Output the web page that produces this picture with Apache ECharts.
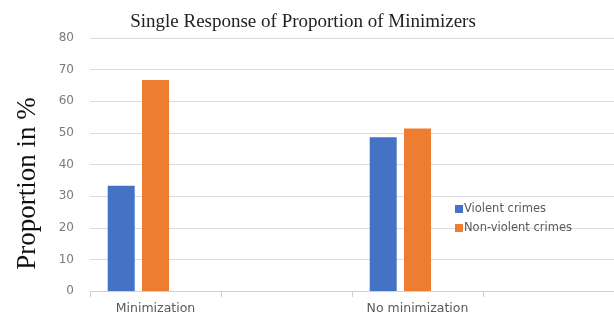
<!DOCTYPE html>
<html>
<head>
<meta charset="utf-8">
<script src="https://cdn.jsdelivr.net/npm/echarts@6/dist/echarts.min.js"></script>
<style>
  html, body { margin: 0; padding: 0; background: #fff; }
  #chart { width: 614px; height: 321px; }
</style>
</head>
<body>
<div id="chart"></div>
<script>
// categories (Excel layout leaves empty slots between groups)
var categories = ['Minimization', '', 'No minimization', ''];
var violentCrimes = [33.3, null, 48.6, null];
var nonViolentCrimes = [66.7, null, 51.4, null];
var yTicks = [0, 10, 20, 30, 40, 50, 60, 70, 80];

var chart = echarts.init(document.getElementById('chart'));
var option = {
  backgroundColor: '#fff',
  animation: false,
  title: {
    text: 'Single Response of Proportion of Minimizers',
    left: 298,
    top: 8,
    textAlign: 'center',
    textStyle: {
      fontFamily: 'Liberation Serif',
      fontWeight: 'normal',
      fontSize: 19,
      color: '#222'
    }
  },
  legend: {
    orient: 'vertical',
    left: 450,
    top: 198,
    itemWidth: 8,
    itemHeight: 8,
    itemGap: 7,
    icon: 'rect',
    data: ['Violent crimes', 'Non-violent crimes'],
    textStyle: { fontFamily: 'DejaVu Sans', fontSize: 11.5, color: '#595959', padding: [0, 0, 0, -4] }
  },
  grid: { left: 90, right: 0, top: 38, bottom: 30 },
  xAxis: {
    type: 'category',
    data: categories,
    axisLine: { lineStyle: { color: '#d0d0d0' } },
    axisTick: { show: true, interval: 0, length: 6, lineStyle: { color: '#d0d0d0' } },
    axisLabel: { interval: 0, fontFamily: 'DejaVu Sans', fontSize: 12.5, color: '#595959', margin: 11 }
  },
  yAxis: {
    type: 'value',
    min: yTicks[0],
    max: yTicks[yTicks.length - 1],
    interval: 10,
    name: 'Proportion in %',
    nameLocation: 'middle',
    nameRotate: 90,
    nameGap: 49,
    nameTextStyle: {
      fontFamily: 'Liberation Serif',
      fontSize: 27,
      color: '#111',
      padding: [0, 38, 0, 0]
    },
    axisLine: { show: false },
    axisTick: { show: false },
    axisLabel: { fontFamily: 'DejaVu Sans', fontSize: 12, color: '#7a7a7a', margin: 16 },
    splitLine: { lineStyle: { color: '#dcdcdc' } }
  },
  series: [
    {
      name: 'Violent crimes',
      type: 'bar',
      data: violentCrimes,
      barWidth: 27,
      barGap: '27%',
      itemStyle: { color: '#4472C4' }
    },
    {
      name: 'Non-violent crimes',
      type: 'bar',
      data: nonViolentCrimes,
      barWidth: 27,
      barGap: '27%',
      itemStyle: { color: '#ED7D31' }
    },
    {
      // empty third slot, keeps the groups off-centre like the original
      name: 'empty',
      type: 'bar',
      data: [],
      barWidth: 27,
      barGap: '27%'
    }
  ]
};
chart.setOption(option);
</script>
</body>
</html>
